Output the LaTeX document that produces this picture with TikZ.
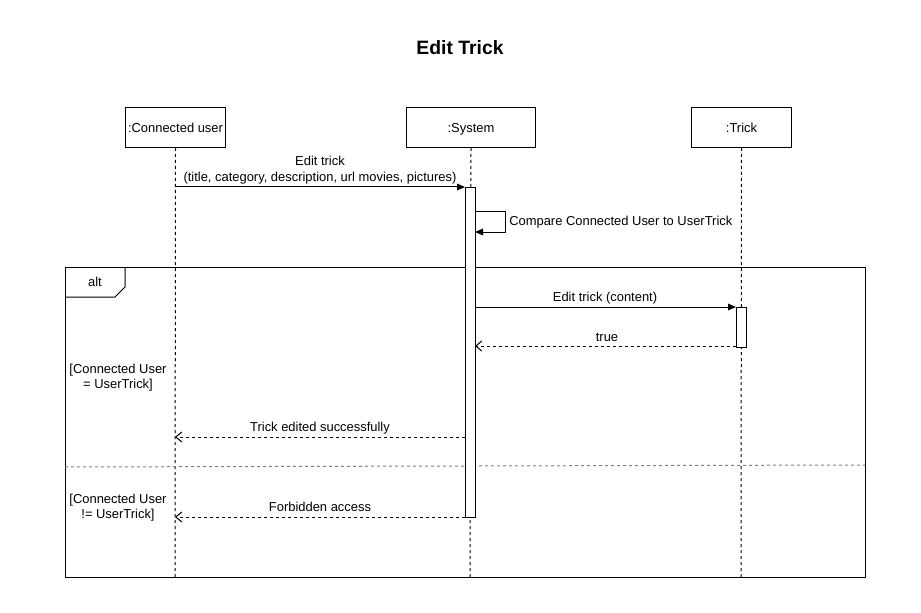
\documentclass[tikz,border=0pt]{standalone}
\usepackage{fontspec}
\setmainfont{Liberation Sans}
\usetikzlibrary{arrows.meta}
\begin{document}
\begin{tikzpicture}[x=0.75pt,y=-0.75pt,
  every node/.style={font=\fontsize{9.7}{11.5}\selectfont},
  obj/.style={draw,line width=0.75pt,minimum height=30pt,inner sep=0pt,anchor=north west,text depth=0pt},
  life/.style={dashed,line width=0.75pt,dash pattern=on 2.25pt off 2.25pt},
  act/.style={draw,fill=white,line width=0.75pt,inner sep=0pt,minimum width=7.5pt,anchor=north west},
  msg/.style={line width=0.75pt,-{Triangle[length=6pt,width=5pt]}},
  ret/.style={line width=0.75pt,dash pattern=on 2.25pt off 2.25pt,-{Straight Barb[length=4.5pt,width=7.5pt]}},
  lbl/.style={inner sep=0pt,align=center}]
\useasboundingbox (0,0) rectangle (921,613);
\node[font=\bfseries\fontsize{14.5}{16}\selectfont] (title) at (460,48) {Edit Trick};
% objects
\node[obj,minimum width=75pt] (cu) at (125,107) {:Connected user};
\node[obj,minimum width=96.75pt] (sys) at (406,107) {:System};
\node[obj,minimum width=75pt] (tr) at (691,107) {:Trick};
\coordinate (cuEnd) at (175,577);
\coordinate (sysEnd) at (470,577);
\coordinate (trEnd) at (741,577);
\draw[life] (cu.south) -- (cuEnd);
\draw[life] (sys.south) -- (sysEnd);
\draw[life] (tr.south) -- (trEnd);
% alt frame
\node[draw,line width=0.75pt,minimum width=600pt,minimum height=232.5pt,inner sep=0pt,anchor=north west] (alt) at (65,267) {};
\draw[line width=0.75pt] (65,297) -- (115,297) -- (125,287) -- (125,267);
\node (altl) at (95,282) {alt};
\draw[gray,line width=0.75pt,dash pattern=on 2.25pt off 2.25pt] (65,467) -- (865,465);
% activations
\node[act,minimum height=247.5pt] (sa) at (465,187) {};
\node[act,minimum height=30pt] (ta) at (736,307) {};
% message 1
\coordinate (m1s) at (175,187);
\draw[msg] (m1s) -- (sa.north west);
\node[lbl] (m1l) at (320,170) {Edit trick\\(title, category, description, url movies, pictures)};
% self message
\coordinate (s1) at (475,212);
\coordinate (s2) at (505,212);
\coordinate (s3) at (505,232);
\coordinate (s4) at (475,232);
\draw[msg] (s1) -- (s2) -- (s3) -- (s4);
\node[lbl,anchor=west] (sl) at (509,222.5) {Compare Connected User to UserTrick};
% edit content
\coordinate (m2s) at (475,307);
\draw[msg] (m2s) -- (ta.north west);
\node[lbl] (m2l) at (605,298) {Edit trick (content)};
% true
\coordinate (m3s) at (736,346);
\coordinate (m3e) at (475,346);
\draw[ret] (m3s) -- (m3e);
\node[lbl] (m3l) at (607,337) {true};
% guards
\node[lbl] (g1) at (118,377.5) {[Connected User\\= UserTrick]};
\node[lbl] (g2) at (118,507.5) {[Connected User\\!= UserTrick]};
% returns
\coordinate (m4s) at (465,437);
\coordinate (m4e) at (175,437);
\draw[ret] (m4s) -- (m4e);
\node[lbl] (m4l) at (320,428) {Trick edited successfully};
\coordinate (m5s) at (465,517);
\coordinate (m5e) at (175,517);
\draw[ret] (m5s) -- (m5e);
\node[lbl] (m5l) at (320,507) {Forbidden access};
\end{tikzpicture}
\end{document}
